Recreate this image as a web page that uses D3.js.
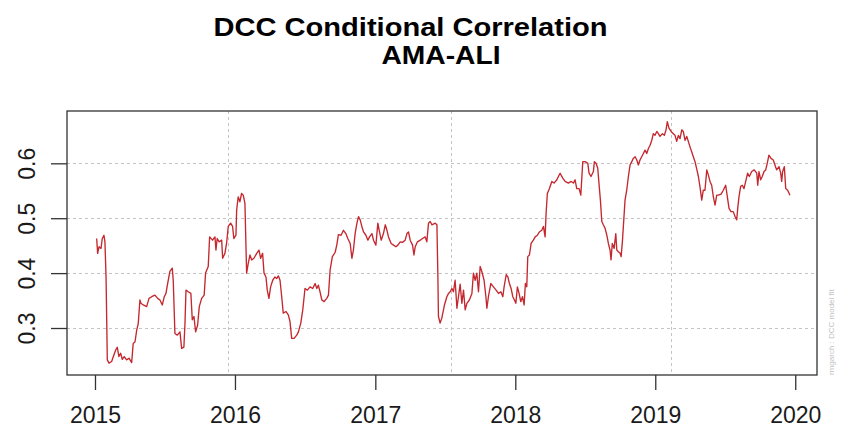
<!DOCTYPE html>
<html>
<head>
<meta charset="utf-8">
<script src="https://cdn.jsdelivr.net/npm/d3@7"></script>
<style>
  html, body { margin: 0; padding: 0; background: #fff; }
  svg { display: block; }
</style>
</head>
<body>
<svg id="chart" width="842" height="433"></svg>
<script>
// ---- data ----------------------------------------------------------------
const titleLines = ["DCC Conditional Correlation", "AMA-ALI"];
const yearTicks = [2015, 2016, 2017, 2018, 2019, 2020];
const corrTicks = [0.3, 0.4, 0.5, 0.6];
const gridYears = [2015.95, 2017.542, 2019.113];
const footnote = "rmgarch  :  DCC model fit";

// observation times, in years since 1 Jan 2015
const yearsSince2015 = [
  0.012,0.019,0.029,0.043,0.052,0.064,0.071,0.079,0.088,0.100,
  0.119,0.131,0.148,0.159,0.171,0.183,0.195,0.209,0.226,0.243,
  0.262,0.273,0.286,0.298,0.309,0.321,0.328,0.345,0.369,0.386,
  0.405,0.428,0.448,0.464,0.481,0.495,0.507,0.519,0.535,0.552,
  0.559,0.571,0.588,0.607,0.619,0.635,0.643,0.650,0.666,0.685,
  0.695,0.707,0.719,0.733,0.745,0.762,0.780,0.790,0.809,0.819,
  0.840,0.857,0.864,0.873,0.887,0.905,0.912,0.928,0.940,0.952,
  0.969,0.983,0.992,1.007,1.012,1.023,1.035,1.047,1.059,1.071,
  1.083,1.095,1.107,1.119,1.135,1.155,1.171,1.183,1.197,1.207,
  1.221,1.230,1.242,1.254,1.269,1.285,1.297,1.309,1.321,1.333,
  1.344,1.364,1.380,1.392,1.404,1.421,1.440,1.452,1.469,1.483,
  1.499,1.516,1.535,1.554,1.571,1.583,1.594,1.606,1.619,1.635,
  1.654,1.666,1.678,1.694,1.714,1.726,1.737,1.756,1.773,1.790,
  1.804,1.821,1.833,1.844,1.856,1.869,1.880,1.892,1.904,1.916,
  1.933,1.947,1.959,1.976,1.987,2.004,2.018,2.030,2.042,2.058,
  2.071,2.083,2.094,2.113,2.130,2.147,2.161,2.178,2.194,2.213,
  2.226,2.237,2.249,2.266,2.276,2.285,2.301,2.321,2.337,2.356,
  2.368,2.380,2.392,2.404,2.428,2.440,2.447,2.451,2.463,2.475,
  2.494,2.511,2.523,2.535,2.547,2.558,2.570,2.583,2.594,2.606,
  2.618,2.630,2.642,2.654,2.672,2.690,2.701,2.713,2.725,2.737,
  2.749,2.761,2.777,2.790,2.797,2.808,2.825,2.844,2.863,2.880,
  2.897,2.911,2.920,2.935,2.947,2.958,2.970,2.982,2.994,3.004,
  3.015,3.027,3.039,3.051,3.063,3.072,3.082,3.089,3.101,3.113,
  3.129,3.142,3.158,3.172,3.189,3.201,3.213,3.220,3.229,3.244,
  3.261,3.277,3.297,3.308,3.320,3.339,3.356,3.379,3.399,3.415,
  3.427,3.439,3.456,3.468,3.482,3.499,3.518,3.527,3.541,3.558,
  3.565,3.577,3.589,3.599,3.608,3.618,3.629,3.641,3.654,3.665,
  3.677,3.684,3.693,3.706,3.718,3.725,3.736,3.749,3.756,3.765,
  3.775,3.784,3.796,3.808,3.820,3.832,3.843,3.856,3.868,3.879,
  3.891,3.903,3.915,3.927,3.939,3.951,3.963,3.975,3.986,3.998,
  4.011,4.022,4.034,4.051,4.065,4.077,4.086,4.098,4.113,4.129,
  4.141,4.153,4.165,4.177,4.189,4.200,4.213,4.225,4.236,4.248,
  4.260,4.272,4.284,4.296,4.308,4.320,4.332,4.343,4.355,4.368,
  4.379,4.391,4.403,4.415,4.427,4.439,4.450,4.470,4.486,4.503,
  4.515,4.527,4.541,4.557,4.570,4.582,4.589,4.598,4.610,4.622,
  4.634,4.646,4.660,4.672,4.689,4.707,4.725,4.732,4.741,4.753,
  4.764,4.777,4.789,4.800,4.812,4.827,4.843,4.855,4.867,4.884,
  4.896,4.903,4.910,4.922,4.932,4.946,4.962
];

// conditional correlation AMA-ALI at each observation
const dccCorr = [
  0.463,0.436,0.448,0.445,0.463,0.469,0.457,0.393,0.242,0.236,
  0.239,0.248,0.260,0.265,0.248,0.254,0.243,0.248,0.242,0.245,
  0.237,0.272,0.275,0.296,0.308,0.351,0.345,0.342,0.339,0.354,
  0.357,0.360,0.354,0.351,0.342,0.357,0.363,0.381,0.403,0.409,
  0.387,0.290,0.287,0.293,0.263,0.265,0.309,0.369,0.366,0.363,
  0.315,0.321,0.293,0.305,0.339,0.354,0.360,0.400,0.412,0.466,
  0.460,0.466,0.442,0.463,0.457,0.460,0.427,0.436,0.454,0.485,
  0.491,0.485,0.463,0.469,0.515,0.539,0.530,0.545,0.542,0.527,
  0.400,0.418,0.433,0.424,0.427,0.436,0.442,0.427,0.436,0.400,
  0.393,0.369,0.354,0.375,0.387,0.393,0.390,0.395,0.387,0.357,
  0.327,0.330,0.324,0.312,0.281,0.281,0.287,0.293,0.309,0.333,
  0.372,0.369,0.375,0.372,0.381,0.372,0.378,0.366,0.351,0.348,
  0.354,0.360,0.406,0.430,0.438,0.452,0.470,0.469,0.478,0.472,
  0.463,0.454,0.427,0.442,0.472,0.491,0.503,0.497,0.485,0.475,
  0.469,0.460,0.466,0.472,0.460,0.451,0.491,0.475,0.460,0.472,
  0.488,0.478,0.466,0.454,0.451,0.448,0.451,0.457,0.456,0.460,
  0.472,0.475,0.460,0.451,0.433,0.448,0.457,0.460,0.463,0.466,
  0.457,0.491,0.494,0.488,0.491,0.488,0.393,0.321,0.309,0.318,
  0.342,0.357,0.363,0.366,0.372,0.366,0.387,0.336,0.357,0.380,
  0.345,0.369,0.333,0.345,0.351,0.363,0.400,0.387,0.400,0.366,
  0.412,0.403,0.387,0.357,0.336,0.357,0.381,0.375,0.369,0.363,
  0.366,0.357,0.375,0.397,0.393,0.381,0.372,0.357,0.351,0.345,
  0.375,0.363,0.348,0.357,0.342,0.381,0.375,0.430,0.433,0.454,
  0.460,0.466,0.469,0.475,0.478,0.485,0.466,0.509,0.545,0.554,
  0.567,0.564,0.570,0.576,0.582,0.573,0.567,0.564,0.567,0.564,
  0.570,0.554,0.554,0.542,0.603,0.603,0.600,0.582,0.576,0.585,
  0.603,0.600,0.591,0.560,0.533,0.494,0.488,0.482,0.469,0.454,
  0.442,0.424,0.454,0.445,0.472,0.442,0.439,0.436,0.430,0.457,
  0.497,0.533,0.551,0.576,0.597,0.603,0.609,0.612,0.606,0.597,
  0.606,0.612,0.618,0.624,0.618,0.627,0.633,0.642,0.654,0.651,
  0.658,0.654,0.649,0.654,0.651,0.661,0.676,0.664,0.658,0.654,
  0.651,0.640,0.651,0.645,0.661,0.658,0.642,0.649,0.640,0.630,
  0.621,0.612,0.603,0.590,0.576,0.556,0.533,0.551,0.551,0.588,
  0.579,0.567,0.560,0.539,0.524,0.542,0.542,0.544,0.551,0.560,
  0.539,0.518,0.512,0.512,0.503,0.497,0.518,0.539,0.558,0.560,
  0.554,0.567,0.582,0.576,0.585,0.588,0.582,0.560,0.585,0.570,
  0.576,0.585,0.588,0.600,0.615,0.609,0.606,0.597,0.588,0.594,
  0.582,0.567,0.585,0.594,0.554,0.551,0.542
];

// ---- helpers -------------------------------------------------------------
function yearToDate(y) {
  const yr = Math.floor(y);
  const start = Date.UTC(yr, 0, 1), end = Date.UTC(yr + 1, 0, 1);
  return new Date(start + (y - yr) * (end - start));
}

const series = yearsSince2015.map((t, i) => ({ date: yearToDate(2015 + t), value: dccCorr[i] }));

// ---- layout --------------------------------------------------------------
const box = { left: 67, right: 817, top: 111, bottom: 375 };
const FONT = "'Liberation Sans', Arial, Helvetica, sans-serif";
const INK = "#1a1a1a";

const x = d3.scaleUtc()
  .domain([yearToDate(2014.8), yearToDate(2020.155)])
  .range([box.left, box.right]);
const y = d3.scaleLinear()
  .domain([0.2144, 0.6953])
  .range([box.bottom, box.top]);

const svg = d3.select("#chart");

// two-line bold title, glyphs slightly widened to the title's set width
const titleSpec = [
  { text: titleLines[0], cx: 410.5, base: 36, width: 394 },
  { text: titleLines[1], cx: 441,   base: 64, width: 119 }
];
svg.selectAll("text.title").data(titleSpec).join("text")
  .attr("class", "title")
  .attr("x", d => d.cx - d.width / 2).attr("y", d => d.base)
  .attr("textLength", d => d.width)
  .attr("lengthAdjust", "spacingAndGlyphs")
  .style("font-family", FONT).style("font-weight", "bold").style("font-size", "26px")
  .attr("fill", "#000")
  .text(d => d.text);

// dashed grid
const grid = svg.append("g")
  .attr("stroke", "#c4c4c4").attr("stroke-width", 1)
  .attr("stroke-dasharray", "3,3").attr("fill", "none");
grid.selectAll("line.h").data(corrTicks).join("line")
  .attr("class", "h")
  .attr("x1", box.left).attr("x2", box.right)
  .attr("y1", d => Math.round(y(d)) + 0.5).attr("y2", d => Math.round(y(d)) + 0.5);
grid.selectAll("line.v").data(gridYears).join("line")
  .attr("class", "v")
  .attr("x1", d => Math.round(x(yearToDate(d))) + 0.5).attr("x2", d => Math.round(x(yearToDate(d))) + 0.5)
  .attr("y1", box.top).attr("y2", box.bottom);

// correlation line
const line = d3.line()
  .x(d => x(d.date))
  .y(d => y(d.value));
svg.append("path")
  .datum(series)
  .attr("d", line)
  .attr("fill", "none")
  .attr("stroke", "#c4282e")
  .attr("stroke-width", 1.35)
  .attr("stroke-linejoin", "round");

// plot frame
svg.append("rect")
  .attr("x", box.left).attr("y", box.top)
  .attr("width", box.right - box.left).attr("height", box.bottom - box.top)
  .attr("fill", "none").attr("stroke", "#333").attr("stroke-width", 1.3);

// x axis
const xAxis = d3.axisBottom(x)
  .tickValues(yearTicks.map(yr => yearToDate(yr)))
  .tickFormat(d3.utcFormat("%Y"))
  .tickSize(15)
  .tickPadding(17);
const gx = svg.append("g")
  .attr("transform", `translate(0,${box.bottom})`)
  .call(xAxis);
gx.select(".domain").remove();
gx.selectAll(".tick line").attr("stroke", "#333").attr("stroke-width", 1.3);
gx.selectAll(".tick text")
  .attr("fill", INK)
  .style("font-family", FONT).style("font-size", "23px");

// y axis, labels turned parallel to the axis
const yAxis = d3.axisLeft(y)
  .tickValues(corrTicks)
  .tickFormat(d3.format(".1f"))
  .tickSize(16);
const gy = svg.append("g")
  .attr("transform", `translate(${box.left},0)`)
  .call(yAxis);
gy.select(".domain").remove();
gy.selectAll(".tick line").attr("stroke", "#333").attr("stroke-width", 1.3);
gy.selectAll(".tick text")
  .attr("x", 0).attr("y", -32).attr("dy", 0)
  .attr("transform", "rotate(-90)")
  .attr("text-anchor", "middle")
  .attr("fill", INK)
  .style("font-family", FONT).style("font-size", "23px");

// model footnote along the right margin
svg.append("text")
  .attr("transform", `translate(834,${box.bottom}) rotate(-90)`)
  .attr("text-anchor", "start")
  .style("font-family", FONT).style("font-size", "8px")
  .attr("fill", "#c2c2c2")
  .text(footnote);
</script>
</body>
</html>
